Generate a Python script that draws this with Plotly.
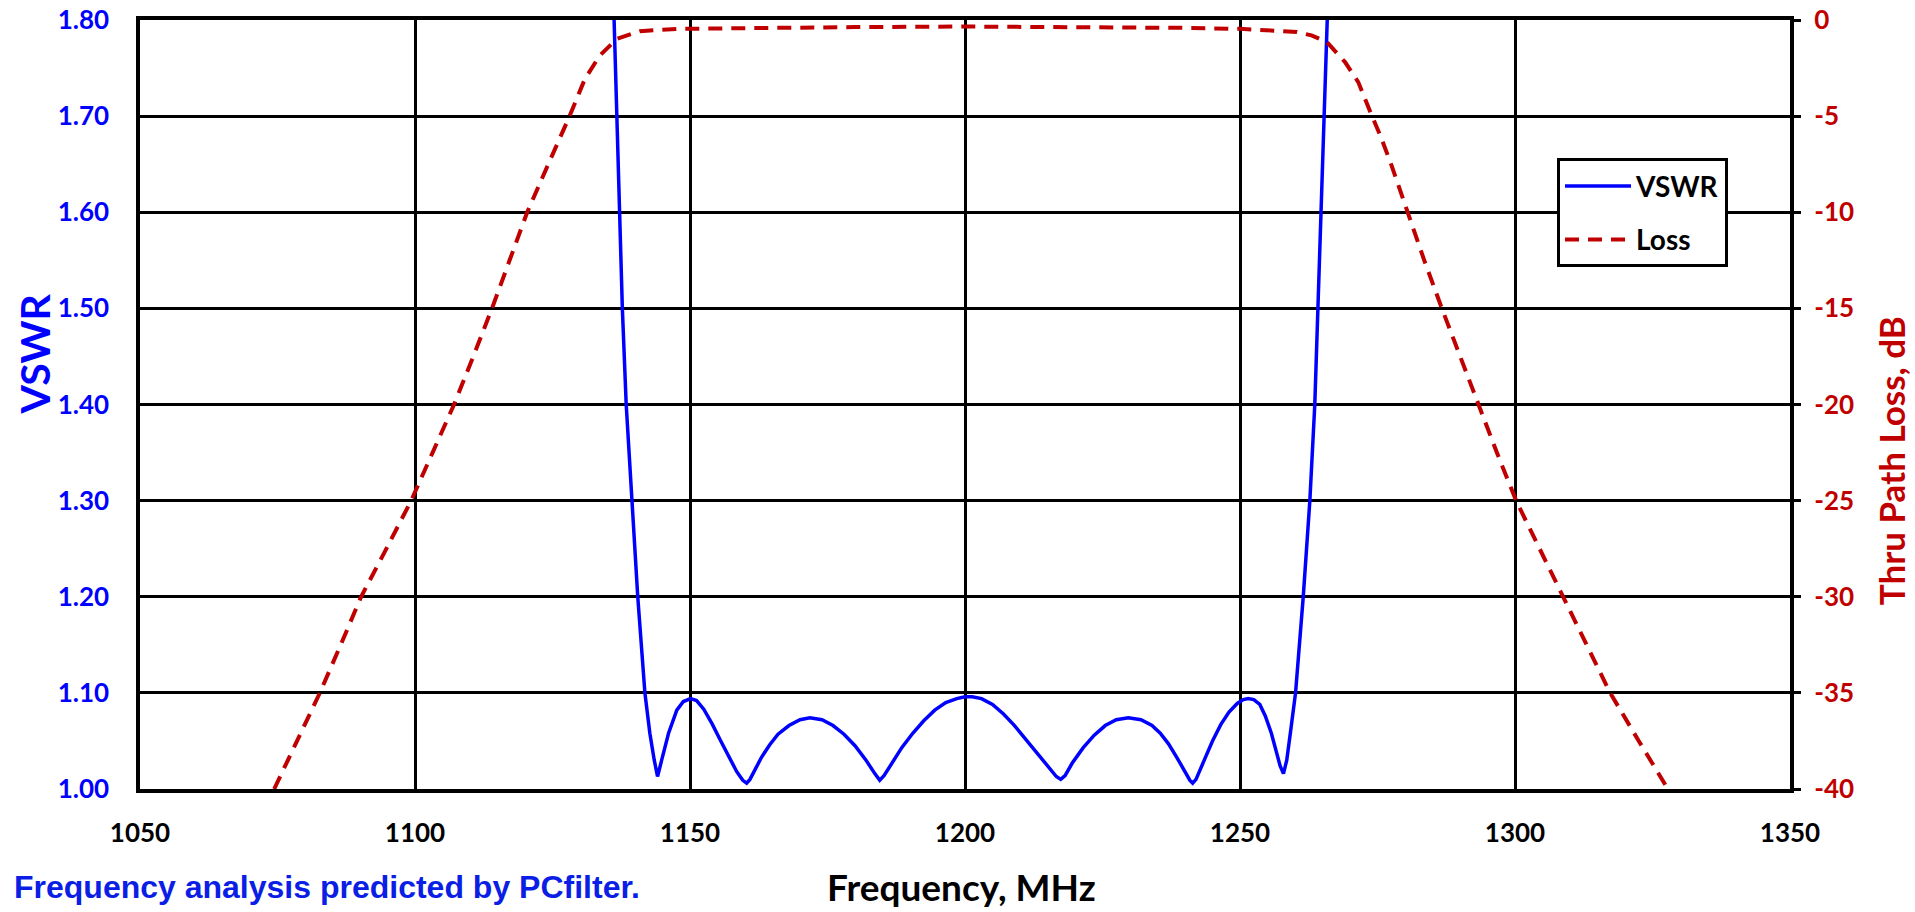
import plotly.graph_objects as go

# VSWR curve (frequency MHz, VSWR)
vswr_freq = [1135.9, 1136.2, 1136.7, 1137.2, 1137.7, 1138.4, 1139.4, 1140.5, 1141.8, 1142.7,
             1143.5, 1144.1, 1144.85, 1146.1, 1147.6, 1148.8, 1150.1, 1151.2, 1152.5, 1154.0,
             1155.5, 1157.0, 1158.5, 1159.6, 1160.3, 1160.9, 1161.8, 1163.0, 1164.5, 1166.0,
             1168.0, 1170.0, 1171.8, 1174.0, 1176.0, 1178.0, 1180.0, 1182.0, 1183.6, 1184.5,
             1185.3, 1186.8, 1188.5, 1190.5, 1192.5, 1194.5, 1196.5, 1198.5, 1200.0, 1201.3,
             1203.0, 1205.0, 1207.0, 1209.0, 1211.0, 1213.0, 1215.0, 1216.6, 1217.4, 1218.2,
             1219.5, 1221.5, 1223.5, 1225.5, 1227.5, 1229.7, 1232.0, 1234.0, 1235.5, 1237.0,
             1238.5, 1240.0, 1240.9, 1241.4, 1242.0, 1243.5, 1245.0, 1246.5, 1248.0, 1249.5,
             1250.6, 1251.5, 1252.5, 1253.6, 1254.6, 1255.7, 1256.6, 1257.3, 1257.9, 1258.5,
             1259.2, 1260.1, 1261.5, 1262.7, 1263.6, 1264.2, 1264.8, 1265.3, 1265.9, 1266.2]
vswr_vals = [1.86, 1.80, 1.70, 1.60, 1.50, 1.40, 1.30, 1.20, 1.10, 1.058,
             1.030, 1.013, 1.030, 1.058, 1.082, 1.091, 1.094, 1.092, 1.083, 1.068,
             1.051, 1.034, 1.018, 1.009, 1.006, 1.010, 1.020, 1.033, 1.046, 1.057,
             1.066, 1.072, 1.074, 1.072, 1.066, 1.057, 1.045, 1.030, 1.016, 1.009,
             1.014, 1.028, 1.043, 1.058, 1.071, 1.082, 1.090, 1.094, 1.096, 1.096,
             1.094, 1.088, 1.078, 1.066, 1.052, 1.038, 1.024, 1.013, 1.010, 1.014,
             1.027, 1.043, 1.056, 1.066, 1.072, 1.074, 1.072, 1.066, 1.058, 1.047,
             1.033, 1.018, 1.009, 1.006, 1.010, 1.030, 1.050, 1.067, 1.080, 1.089,
             1.093, 1.094, 1.093, 1.088, 1.076, 1.058, 1.038, 1.024, 1.016, 1.030,
             1.060, 1.10, 1.20, 1.30, 1.40, 1.50, 1.60, 1.70, 1.80, 1.86]

# Thru path loss (frequency MHz, dB)
loss_freq = [1074.4, 1078.5, 1082.7, 1086.5, 1090.2, 1094.8, 1099.3, 1103.2, 1107.1, 1110.6,
             1114.0, 1117.2, 1120.4, 1123.0, 1125.5, 1128.1, 1130.9, 1133.6, 1136.7, 1140.9,
             1148.0, 1160.0, 1180.0, 1200.0, 1220.0, 1240.0, 1250.0, 1255.0, 1260.3, 1263.0,
             1265.8, 1269.1, 1271.5, 1274.0, 1275.5, 1277.6, 1280.4, 1283.5, 1286.7, 1290.0,
             1293.3, 1296.7, 1300.2, 1304.5, 1308.9, 1313.0, 1317.3, 1322.5, 1327.8]
loss_vals = [-40, -37.5, -35, -32.5, -30, -27.5, -25, -22.5, -20, -17.5,
             -15, -12.5, -10, -8.3, -6.7, -5.0, -3.06, -1.85, -0.98, -0.58,
             -0.46, -0.42, -0.37, -0.34, -0.36, -0.41, -0.46, -0.52, -0.62, -0.8,
             -1.15, -2.19, -3.23, -5.0, -6.0, -7.6, -10, -12.5, -15, -17.5,
             -20, -22.5, -25, -27.5, -30, -32.5, -35, -37.5, -40]

x_ticks = [1050, 1100, 1150, 1200, 1250, 1300, 1350]
vswr_ticks = [1.00, 1.10, 1.20, 1.30, 1.40, 1.50, 1.60, 1.70, 1.80]
loss_ticks = [0, -5, -10, -15, -20, -25, -30, -35, -40]

BLUE = "#0000FF"
RED = "#C00000"
FONT = "Lato"

fig = go.Figure()
fig.add_trace(go.Scatter(x=vswr_freq, y=vswr_vals, name="VSWR", mode="lines",
                         line=dict(color=BLUE, width=3.5), yaxis="y", legendgroup="a"))
fig.add_trace(go.Scatter(x=loss_freq, y=loss_vals, name="Loss", mode="lines",
                         line=dict(color=RED, width=4, dash="14px,9px"), yaxis="y2",
                         legendgroup="b"))

fig.update_layout(
    width=1915, height=912,
    margin=dict(l=140, r=125, t=20, b=123),
    paper_bgcolor="white", plot_bgcolor="white",
    showlegend=True,
    legend=dict(x=0.8588, y=0.820, xanchor="left", yanchor="top",
                bgcolor="white", bordercolor="black", borderwidth=3,
                font=dict(family=FONT, size=28, color="black", weight="bold"),
                tracegroupgap=14, itemwidth=66),
    xaxis=dict(range=[1050, 1350], tickvals=x_ticks, ticktext=[str(v) for v in x_ticks],
               showgrid=True, gridcolor="black", gridwidth=3, automargin=False,
               showline=True, linecolor="black", linewidth=3.5, mirror=True,
               ticks="", ticklabelstandoff=18, zeroline=False,
               tickfont=dict(family=FONT, size=26, color="black", weight="bold")),
    yaxis=dict(range=[1.0, 1.8], tickvals=vswr_ticks, ticktext=[f"{v:.2f}" for v in vswr_ticks],
               showgrid=True, gridcolor="black", gridwidth=3, automargin=False,
               showline=True, linecolor="black", linewidth=3.5, mirror=True,
               ticks="", ticklabelstandoff=22, zeroline=False,
               tickfont=dict(family=FONT, size=26, color=BLUE, weight="bold")),
    yaxis2=dict(range=[-40, 0], tickvals=loss_ticks, ticktext=[str(v) for v in loss_ticks],
                overlaying="y", side="right", showgrid=False, zeroline=False, automargin=False,
                showline=False, ticks="outside", ticklen=10, tickwidth=3, tickcolor="black",
                ticklabelstandoff=8,
                tickfont=dict(family=FONT, size=26, color=RED, weight="bold")),
    annotations=[
        dict(text="Frequency analysis predicted by PCfilter.",
             xref="paper", yref="paper", x=-0.0776, y=-0.128,
             xanchor="left", yanchor="middle", showarrow=False,
             font=dict(family="Liberation Sans", size=32, color="#0A1EE6", weight="bold")),
        dict(text="Frequency, MHz", xref="paper", yref="paper", x=0.498, y=-0.1265,
             xanchor="center", yanchor="middle", showarrow=False,
             font=dict(family=FONT, size=37, color="black", weight="bold")),
        dict(text="VSWR", xref="paper", yref="paper", x=-0.0642, y=0.565,
             xanchor="center", yanchor="middle", showarrow=False, textangle=-90,
             font=dict(family=FONT, size=41, color=BLUE, weight="bold")),
        dict(text="Thru Path Loss, dB", xref="paper", yref="paper", x=1.0612, y=0.4275,
             xanchor="center", yanchor="middle", showarrow=False, textangle=-90,
             font=dict(family=FONT, size=35, color=RED, weight="bold")),
    ],
)

fig.write_html("out.html")
